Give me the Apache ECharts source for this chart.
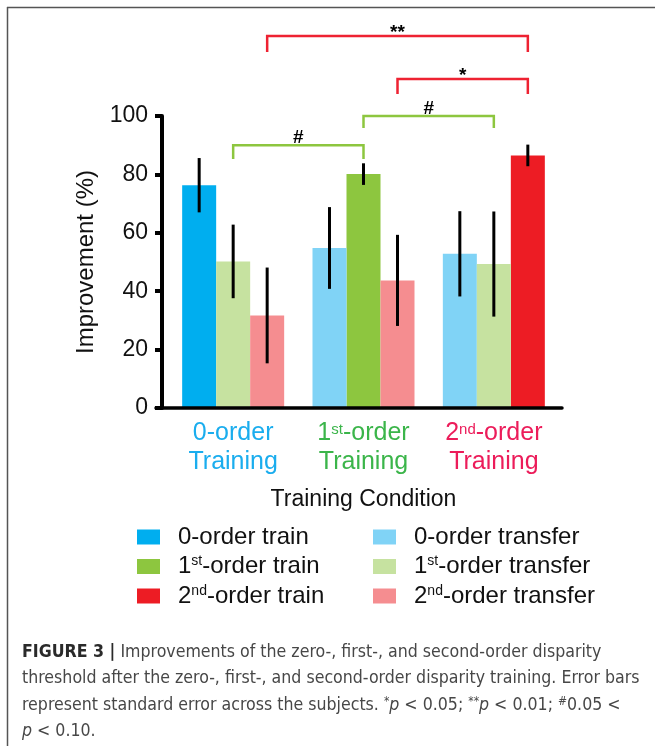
<!DOCTYPE html>
<html>
<head>
<meta charset="utf-8">
<script src="https://cdn.jsdelivr.net/npm/echarts@6/dist/echarts.min.js"></script>
<style>
html,body{margin:0;padding:0;background:#fff;}
#c{width:655px;height:746px;}
</style>
</head>
<body>
<div id="c"></div>
<script>
// ---- data ----
const categories = ['0-order\nTraining', '1st-order\nTraining', '2nd-order\nTraining'];
const yTicks = [0, 20, 40, 60, 80, 100];
const zeroTrain      = [76.3, '-', '-'];
const firstTrain     = ['-', 80.1, '-'];
const secondTrain    = ['-', '-', 86.5];
const zeroTransfer   = ['-', 54.8, 52.8];
const firstTransfer  = [50.2, '-', 49.3];
const secondTransfer = [31.7, 43.7, '-'];
const zeroTrainSE      = [9.3, '-', '-'];
const firstTrainSE     = ['-', 3.7, '-'];
const secondTrainSE    = ['-', '-', 3.7];
const zeroTransferSE   = ['-', 14.0, 14.6];
const firstTransferSE  = [12.6, '-', 18.0];
const secondTransferSE = [16.4, 15.6, '-'];
// significance brackets: [fromCategory, fromSlot, toCategory, toSlot, bracketTop, legEnd]
const brackets = [
  [0, 1, 1, 1, 90.0, 85.3],
  [1, 1, 2, 1, 100.0, 95.9],
  [1, 2, 2, 2, 112.7, 107.5],
  [0, 2, 2, 2, 127.4, 121.9]
];
const bracketLabels = ['#', '#', '*', '**'];
const bracketKind = ['first', 'first', 'second', 'second'];

// ---- styles ----
const FONT = 'Liberation Sans, Arial, sans-serif';
const CAP_FONT = '"DejaVu Sans Condensed", "Liberation Sans Narrow", sans-serif';
const C = {
  zeroTrain: '#00AEEF', zeroTransfer: '#80D3F6',
  firstTrain: '#8DC63F', firstTransfer: '#C6E2A0',
  secondTrain: '#ED1C24', secondTransfer: '#F58D90'
};
const LABEL_COLORS = ['#1AADEE', '#3BB54A', '#EC1C5A'];
const BRACKET_COLORS = {first: '#8DC63F', second: '#EE2232'};
const BAR_W = 34;

function barSeries(name, data, stack, color) {
  return {
    name: name, type: 'bar', stack: stack, data: data,
    barWidth: BAR_W, barGap: '0%',
    itemStyle: {color: color}, emphasis: {disabled: true}, silent: true
  };
}

const seriesDefs = [
  ['0-order train', zeroTrain, zeroTrainSE, 's0', C.zeroTrain, 0],
  ['1st-order train', firstTrain, firstTrainSE, 's1', C.firstTrain, 1],
  ['2nd-order train', secondTrain, secondTrainSE, 's2', C.secondTrain, 2],
  ['0-order transfer', zeroTransfer, zeroTransferSE, 's0', C.zeroTransfer, 0],
  ['1st-order transfer', firstTransfer, firstTransferSE, 's1', C.firstTransfer, 1],
  ['2nd-order transfer', secondTransfer, secondTransferSE, 's2', C.secondTransfer, 2]
];

const errData = [];
seriesDefs.forEach(function (d) {
  d[1].forEach(function (v, i) {
    if (v === '-') return;
    errData.push([i, d[5], v - d[2][i], v + d[2][i]]);
  });
});

function supify(s) {
  return s.replace(/^1st/, '1{sup|st}').replace(/^2nd/, '2{sup|nd}');
}

const chart = echarts.init(document.getElementById('c'), null, {renderer: 'canvas'});

const labelRich = {};
LABEL_COLORS.forEach(function (col, i) {
  labelRich['t' + i] = {color: col, fontSize: 25, fontFamily: FONT, lineHeight: 29};
  labelRich['s' + i] = {color: col, fontSize: 15, fontFamily: FONT, lineHeight: 16, verticalAlign: 'top', padding: [3, 0, 0, 0]};
});

const legendTextStyle = {
  fontSize: 24, fontFamily: FONT, color: '#111', lineHeight: 24,
  padding: [0, 0, 0, 13],
  rich: {
    t: {fontSize: 24, fontFamily: FONT, color: '#111', lineHeight: 24},
    sup: {fontSize: 14, fontFamily: FONT, color: '#111', lineHeight: 14, verticalAlign: 'top'}
  }
};

function legendFmt(n) {
  return '{t|' + supify(n).replace('{sup|', '}{sup|').replace(/\}(-order)/, '}{t|$1') + '}';
}

const option = {
  backgroundColor: '#fff',
  animation: false,
  grid: {left: 168, width: 391, top: 116, height: 292, containLabel: false},
  xAxis: {
    type: 'category', data: categories,
    axisLine: {show: false},
    axisTick: {show: false},
    axisLabel: {
      margin: 11, interval: 0, hideOverlap: false,
      formatter: function (val, idx) {
        const lines = val.split('\n');
        let first = lines[0];
        const m = first.match(/^(\d)(st|nd)(.*)$/);
        if (m) first = '{t' + idx + '|' + m[1] + '}{s' + idx + '|' + m[2] + '}{t' + idx + '|' + m[3] + '}';
        else first = '{t' + idx + '|' + first + '}';
        return first + '\n{t' + idx + '|' + lines[1] + '}';
      },
      rich: labelRich
    },
    name: 'Training Condition', nameLocation: 'middle', nameGap: 80,
    nameTextStyle: {fontSize: 23, fontFamily: FONT, color: '#111'}
  },
  yAxis: {
    type: 'value', min: 0, max: 100, interval: 20, offset: 6,
    axisLine: {show: true, lineStyle: {color: '#000', width: 4}},
    axisTick: {show: true, length: 7, lineStyle: {color: '#000', width: 4}},
    splitLine: {show: false},
    axisLabel: {
      margin: 14, fontSize: 23, fontFamily: FONT, color: '#111',
      formatter: function (v) { return yTicks.indexOf(v) >= 0 ? String(v) : ''; }
    },
    name: 'Improvement (%)', nameLocation: 'middle', nameGap: 62,
    nameTextStyle: {fontSize: 24, fontFamily: FONT, color: '#111'}
  },
  legend: [
    {
      data: ['0-order train', '1st-order train', '2nd-order train'],
      orient: 'vertical', left: 132, top: 520, itemGap: 5.5,
      itemWidth: 23, itemHeight: 15, icon: 'rect', selectedMode: false,
      formatter: legendFmt, textStyle: legendTextStyle
    },
    {
      data: ['0-order transfer', '1st-order transfer', '2nd-order transfer'],
      orient: 'vertical', left: 368, top: 520, itemGap: 5.5,
      itemWidth: 23, itemHeight: 15, icon: 'rect', selectedMode: false,
      formatter: legendFmt, textStyle: legendTextStyle
    }
  ],
  series: seriesDefs.map(function (d) { return barSeries(d[0], d[1], d[3], d[4]); }).concat([
    {
      name: 'err', type: 'custom', data: errData, silent: true, z: 5,
      encode: {x: 0, y: [2, 3]},
      renderItem: function (params, api) {
        const cx = api.coord([api.value(0), 0])[0] + (api.value(1) - 1) * BAR_W;
        const y1 = api.coord([api.value(0), api.value(2)])[1];
        const y2 = api.coord([api.value(0), api.value(3)])[1];
        return {type: 'line', shape: {x1: cx, y1: y1, x2: cx, y2: y2},
          style: {stroke: '#000', lineWidth: 3}};
      }
    },
    {
      name: 'sig', type: 'custom', data: brackets, silent: true, clip: false, z: 6,
      encode: {x: [0, 2], y: [4, 5]},
      renderItem: function (params, api) {
        const i = params.dataIndex;
        const xa = api.coord([api.value(0), 0])[0] + (api.value(1) - 1) * BAR_W;
        const xb = api.coord([api.value(2), 0])[0] + (api.value(3) - 1) * BAR_W;
        const yt = api.coord([0, api.value(4)])[1];
        const yl = api.coord([0, api.value(5)])[1];
        const col = BRACKET_COLORS[bracketKind[i]];
        const isStar = bracketLabels[i].indexOf('*') >= 0;
        return {
          type: 'group',
          children: [
            {type: 'polyline', shape: {points: [[xa, yl], [xa, yt], [xb, yt], [xb, yl]]},
              style: {stroke: col, lineWidth: 2.5, fill: null}},
            {type: 'text', x: (xa + xb) / 2, y: yt - (isStar ? 3.5 : 7),
              style: {text: bracketLabels[i], fill: '#000', font: 'bold 19px ' + FONT,
                align: 'center', verticalAlign: 'middle'}}
          ]
        };
      }
    }
  ]),
  graphic: [
    {type: 'line', shape: {x1: 7, y1: 7.5, x2: 655, y2: 7.5}, style: {stroke: '#555', lineWidth: 1.5}, silent: true},
    {type: 'line', shape: {x1: 7.5, y1: 7, x2: 7.5, y2: 746}, style: {stroke: '#555', lineWidth: 1.5}, silent: true},
    {
      type: 'text', left: 22, top: 639, silent: true,
      style: {
        text: '{b|FIGURE 3 |} Improvements of the zero-, first-, and second-order disparity\n' +
              'threshold after the zero-, first-, and second-order disparity training. Error bars\n' +
              'represent standard error across the subjects. {s|*}{i|p} < 0.05; {s|**}{i|p} < 0.01; {s|#}0.05 <\n' +
              '{i|p} < 0.10.',
        font: '17.6px ' + CAP_FONT,
        fill: '#474747', lineHeight: 26.5,
        rich: {
          b: {font: 'bold 17.6px ' + CAP_FONT, fill: '#2a2a2a', lineHeight: 26.5},
          i: {font: 'italic 17.6px ' + CAP_FONT, fill: '#474747', lineHeight: 26.5},
          s: {font: '12px ' + CAP_FONT, fill: '#474747', lineHeight: 12, verticalAlign: 'top', padding: [4, 0, 0, 0]}
        }
      }
    }
  ]
};

chart.setOption(option);
const y0 = chart.convertToPixel({yAxisIndex: 0}, 0);
chart.setOption({
  graphic: option.graphic.concat([
    {type: 'line', shape: {x1: 156, y1: y0, x2: 562, y2: y0}, style: {stroke: '#000', lineWidth: 3.5, lineCap: 'round'}, silent: true, z: 10}
  ])
});
</script>
</body>
</html>
